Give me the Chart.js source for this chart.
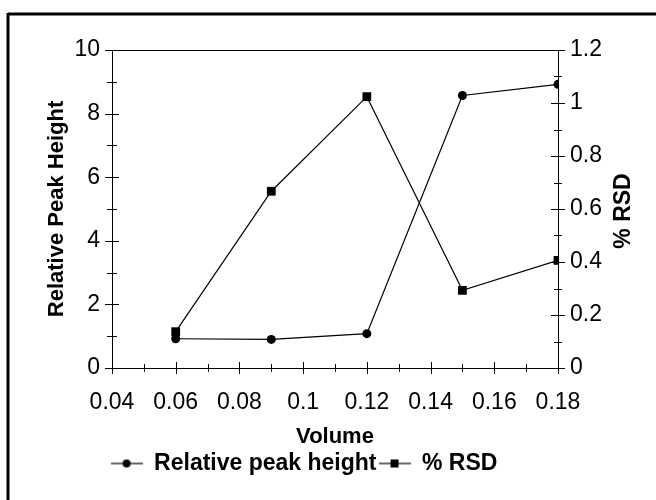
<!DOCTYPE html>
<html lang="en">
<head>
<meta charset="UTF-8">
<title>Relative Peak Height and % RSD vs Volume</title>
<script src="https://cdn.jsdelivr.net/npm/chart.js"></script>
<style>
  html, body { margin: 0; padding: 0; background: #fff; }
  canvas { display: block; }
</style>
</head>
<body>
<canvas id="volumeChart" width="656" height="500"></canvas>
<script>
const volumes = [0.06, 0.09, 0.12, 0.15, 0.18];
const peakHeight = [0.92, 0.90, 1.08, 8.57, 8.92];
const rsdPercent = [0.137, 0.667, 1.024, 0.293, 0.406];

const xTicks = [0.04, 0.06, 0.08, 0.1, 0.12, 0.14, 0.16, 0.18];
const xMinorTicks = [0.05, 0.07, 0.09, 0.11, 0.13, 0.15, 0.17];
const peakTicks = [0, 2, 4, 6, 8, 10];
const peakMinorTicks = [1, 3, 5, 7, 9];
const rsdTicks = [0, 0.2, 0.4, 0.6, 0.8, 1, 1.2];
const rsdMinorTicks = [0.1, 0.3, 0.5, 0.7, 0.9, 1.1];

const FONT = "'Liberation Sans', Arial, sans-serif";

// little line + marker images for the legend entries
const legendIcon = (shape) => {
    const c = document.createElement('canvas');
    c.width = 32; c.height = 12;
    const g = c.getContext('2d');
    g.strokeStyle = '#000'; g.fillStyle = '#000'; g.lineWidth = 1.2;
    g.beginPath(); g.moveTo(0, 6); g.lineTo(32, 6); g.stroke();
    if (shape === 'circle') {
        g.beginPath(); g.arc(16, 6, 4, 0, Math.PI * 2); g.fill();
    } else {
        g.fillRect(12, 2, 8, 8);
    }
    return c;
};

const setTicks = (values) => (scale) => {
    scale.ticks = values.map(v => ({ value: v }));
};
const plainNumber = (v) => String(+v.toFixed(3));

// plot outline, crossing tick marks, right axis title and page frame
const decorations = {
    id: 'decorations',
    afterLayout(chart) {
        // legend sits left of centre
        const lg = chart.legend;
        lg.left -= 24; lg.right -= 24;
    },
    afterDraw(chart) {
        const { ctx, chartArea: a, scales } = chart;
        ctx.save();
        ctx.strokeStyle = '#000';
        ctx.lineWidth = 1;
        const seg = (x1, y1, x2, y2) => {
            ctx.beginPath(); ctx.moveTo(x1, y1); ctx.lineTo(x2, y2); ctx.stroke();
        };
        seg(a.left, a.top + 0.5, a.right, a.top + 0.5);

        xTicks.forEach(v => { const x = Math.round(scales.x.getPixelForValue(v)) + 0.5; seg(x, a.bottom - 6, x, a.bottom + 6); });
        xMinorTicks.forEach(v => { const x = Math.round(scales.x.getPixelForValue(v)) + 0.5; seg(x, a.bottom - 4, x, a.bottom + 4); });
        peakTicks.forEach(v => { const y = Math.round(scales.y.getPixelForValue(v)) + 0.5; seg(a.left - 7, y, a.left + 7, y); });
        peakMinorTicks.forEach(v => { const y = Math.round(scales.y.getPixelForValue(v)) + 0.5; seg(a.left - 5, y, a.left + 5, y); });
        rsdTicks.forEach(v => { const y = Math.round(scales.y1.getPixelForValue(v)) + 0.5; seg(a.right - 7, y, a.right + 7, y); });
        rsdMinorTicks.forEach(v => { const y = Math.round(scales.y1.getPixelForValue(v)) + 0.5; seg(a.right - 4, y, a.right + 4, y); });

        // right axis title reads bottom-to-top like the left one
        ctx.translate(624, (a.top + a.bottom) / 2 + 2);
        ctx.rotate(-Math.PI / 2);
        ctx.fillStyle = '#000';
        ctx.font = `bold 23px ${FONT}`;
        ctx.textAlign = 'center';
        ctx.textBaseline = 'middle';
        ctx.fillText('% RSD', 0, 0);
        ctx.setTransform(1, 0, 0, 1, 0, 0);

        // page frame (top and left edges)
        ctx.lineWidth = 3;
        seg(8, 14, chart.width, 14);
        seg(8, 13, 8, chart.height);
        ctx.restore();
    }
};

new Chart(document.getElementById('volumeChart'), {
    type: 'scatter',
    data: {
        datasets: [{
            label: 'Relative peak height',
            data: volumes.map((v, i) => ({ x: v, y: peakHeight[i] })),
            yAxisID: 'y',
            showLine: true,
            borderColor: '#000',
            backgroundColor: '#000',
            borderWidth: 1.2,
            pointStyle: 'circle',
            pointRadius: 4.5,
            pointBorderWidth: 0
        }, {
            label: '% RSD',
            data: volumes.map((v, i) => ({ x: v, y: rsdPercent[i] })),
            yAxisID: 'y1',
            showLine: true,
            borderColor: '#000',
            backgroundColor: '#000',
            borderWidth: 1.2,
            pointStyle: 'rect',
            pointRadius: 6.2,
            pointBorderWidth: 0
        }]
    },
    options: {
        responsive: false,
        animation: false,
        devicePixelRatio: 1,
        layout: { padding: { top: 50, left: 0, right: 0, bottom: 15 } },
        plugins: {
            tooltip: { enabled: false },
            legend: {
                position: 'bottom',
                labels: {
                    usePointStyle: true,
                    pointStyleWidth: 32,
                    padding: 2,
                    color: '#000',
                    font: { family: FONT, size: 23, weight: 'bold' },
                    generateLabels: (chart) => chart.data.datasets.map((ds, i) => ({
                        text: ds.label,
                        pointStyle: legendIcon(i === 0 ? 'circle' : 'rect'),
                        fontColor: '#000',
                        lineWidth: 0,
                        datasetIndex: i
                    }))
                }
            }
        },
        scales: {
            x: {
                type: 'linear',
                min: 0.04, max: 0.18,
                afterBuildTicks: setTicks(xTicks),
                afterFit: (s) => { s.height = 82; },
                grid: { display: false, drawTicks: false },
                border: { display: true, color: '#000', width: 1 },
                ticks: { color: '#000', padding: 21, font: { family: FONT, size: 23 }, callback: plainNumber },
                title: { display: true, text: 'Volume', color: '#000', padding: 0, font: { family: FONT, size: 22, weight: 'bold' } }
            },
            y: {
                position: 'left',
                min: 0, max: 10,
                afterBuildTicks: setTicks(peakTicks),
                afterFit: (s) => { s.width = 112; },
                grid: { display: false, drawTicks: false },
                border: { display: true, color: '#000', width: 1 },
                ticks: { color: '#000', padding: 12, font: { family: FONT, size: 23 }, callback: plainNumber },
                title: { display: true, text: 'Relative Peak Height', color: '#000', padding: { top: 44, bottom: 0 }, font: { family: FONT, size: 22, weight: 'bold' } }
            },
            y1: {
                position: 'right',
                min: 0, max: 1.2,
                afterBuildTicks: setTicks(rsdTicks),
                afterFit: (s) => { s.width = 98; },
                grid: { display: false, drawTicks: false },
                border: { display: true, color: '#000', width: 1 },
                ticks: { color: '#000', padding: 12, font: { family: FONT, size: 23 }, callback: plainNumber }
            }
        }
    },
    plugins: [decorations]
});
</script>
</body>
</html>
